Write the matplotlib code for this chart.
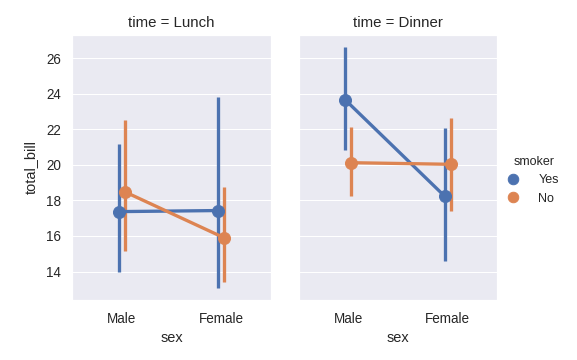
import matplotlib
matplotlib.use("Agg")
import matplotlib.pyplot as plt
import seaborn as sns
import numpy as np
from matplotlib.lines import Line2D

sns.set_theme(style="darkgrid")
plt.rcParams["font.family"] = ["Liberation Sans", "DejaVu Sans"]

categories = ["Male", "Female"]
times = ["Lunch", "Dinner"]
hue_levels = ["Yes", "No"]
colors = ["#4c72b0", "#dd8452"]

# means[time][hue] per sex
means = {
    "Lunch": {"Yes": [17.37, 17.43], "No": [18.49, 15.90]},
    "Dinner": {"Yes": [23.64, 18.22], "No": [20.12, 20.03]},
}
ci_low = {
    "Lunch": {"Yes": [13.95, 13.08], "No": [15.14, 13.43]},
    "Dinner": {"Yes": [20.82, 14.59], "No": [18.27, 17.41]},
}
ci_high = {
    "Lunch": {"Yes": [21.19, 23.81], "No": [22.52, 18.74]},
    "Dinner": {"Yes": [26.61, 22.09], "No": [22.15, 22.66]},
}

W, H = 577, 360
dpi = 72
fig = plt.figure(figsize=(W / dpi, H / dpi), dpi=dpi)
ax1 = fig.add_axes([72 / W, 1 - 300 / H, 199 / W, 265 / H])
ax2 = fig.add_axes([298.5 / W, 1 - 300 / H, 199 / W, 265 / H], sharey=ax1)

offsets = [-0.028, 0.028]
lw = 3.3
ms = 12
x = np.arange(len(categories))
for ax, t in zip([ax1, ax2], times):
    for hi, (h, c) in enumerate(zip(hue_levels, colors)):
        xs = x + offsets[hi]
        for xi, lo, hi_ in zip(xs, ci_low[t][h], ci_high[t][h]):
            ax.plot([xi, xi], [lo, hi_], color=c, lw=lw, solid_capstyle="butt", zorder=2)
        ax.plot(xs, means[t][h], color=c, lw=lw, zorder=3)
        ax.plot(xs, means[t][h], "o", color=c, ms=ms, mec=c, zorder=4)
    ax.set_xlim(-0.5, 1.5)
    ax.set_xticks(x)
    ax.set_xticklabels(categories, fontsize=13.5)
    ax.tick_params(axis="x", pad=6)
    ax.xaxis.grid(False)
    ax.set_xlabel("sex", fontsize=14.5, labelpad=5)
    ax.set_title(f"time = {t}", fontsize=15, pad=8)
    ax.tick_params(axis="y", labelsize=13.5, pad=5)

ax1.set_ylim(12.4, 27.3)
ax1.set_yticks([14, 16, 18, 20, 22, 24, 26])
ax1.set_ylabel("total_bill", fontsize=14.5, labelpad=8)
ax2.tick_params(axis="y", labelleft=False)
ax2.set_ylabel("")

handles = [Line2D([], [], marker="o", ls="", color=c, ms=10.5) for c in colors]
fig.legend(handles, hue_levels, title="smoker", loc="upper left",
           bbox_to_anchor=(509.5 / W, 1 - 156 / H), frameon=False,
           borderpad=0, borderaxespad=0, handlelength=0.6,
           fontsize=12.5, title_fontsize=12.5, handletextpad=1.7,
           labelspacing=0.5)

fig.savefig("out.png", dpi=dpi)
